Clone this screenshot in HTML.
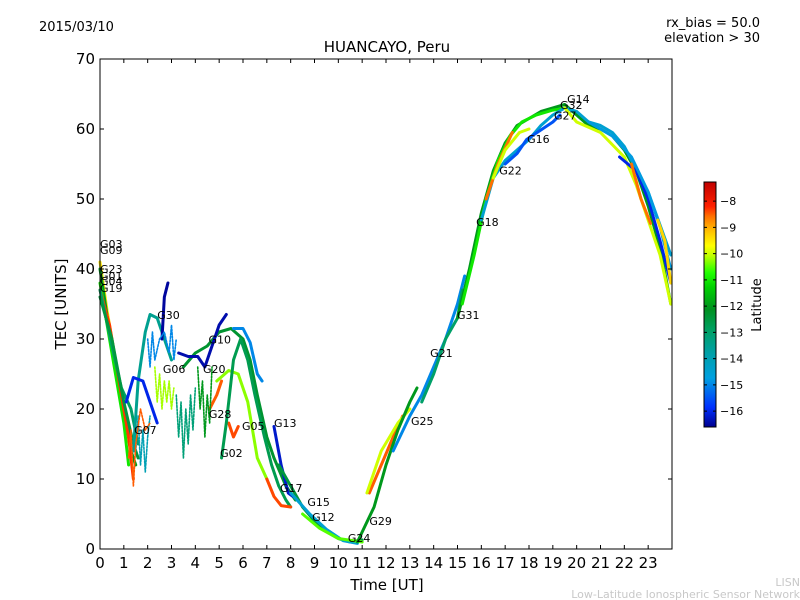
<!DOCTYPE html>
<html><head><meta charset="utf-8"><style>
body{margin:0;background:#fff;}
svg{display:block;font-family:"DejaVu Sans","Liberation Sans",sans-serif;}
</style></head><body>
<svg id="c" width="800" height="600" viewBox="0 0 800 600">
<defs><linearGradient id="cbg" x1="0" y1="1" x2="0" y2="0">
<stop offset="0" stop-color="#00008f"/><stop offset="0.08" stop-color="#0030ff"/><stop offset="0.2" stop-color="#00a0e0"/><stop offset="0.3" stop-color="#00a0a8"/><stop offset="0.4" stop-color="#00a060"/><stop offset="0.48" stop-color="#009020"/><stop offset="0.57" stop-color="#00d000"/><stop offset="0.63" stop-color="#20ff00"/><stop offset="0.7" stop-color="#c0ff00"/><stop offset="0.74" stop-color="#ffff00"/><stop offset="0.8" stop-color="#ffc000"/><stop offset="0.86" stop-color="#ff7000"/><stop offset="0.9" stop-color="#ff2000"/><stop offset="1" stop-color="#c00000"/>
</linearGradient></defs>
<text x="39" y="31" font-size="13">2015/03/10</text>
<text x="760" y="27" font-size="13" text-anchor="end">rx_bias = 50.0</text>
<text x="760" y="42" font-size="13" text-anchor="end">elevation &gt; 30</text>
<text x="387" y="52" font-size="15" text-anchor="middle">HUANCAYO, Peru</text>
<g id="tracks"></g>
<g id="labels"></g>
<rect x="100" y="59" width="572" height="490" fill="none" stroke="#000" stroke-width="1"/>
<g id="axes"></g>
<text x="387" y="590" font-size="15" text-anchor="middle">Time [UT]</text>
<text transform="translate(66,304) rotate(-90)" font-size="15" text-anchor="middle">TEC [UNITS]</text>
<rect x="704" y="182" width="12" height="245" fill="url(#cbg)" stroke="#000" stroke-width="1"/>
<g id="cbticks"></g>
<text transform="translate(761,305) rotate(-90)" font-size="13" text-anchor="middle">Latitude</text>
<text x="800" y="586" font-size="11" fill="#c8c8c8" text-anchor="end">LISN</text>
<text x="800" y="598" font-size="11" fill="#c8c8c8" text-anchor="end">Low-Latitude Ionospheric Sensor Network</text>
</svg>
<script>
const xTicks=[0,1,2,3,4,5,6,7,8,9,10,11,12,13,14,15,16,17,18,19,20,21,22,23];
const yTicks=[0,10,20,30,40,50,60,70];
const cbTicks=[-8,-9,-10,-11,-12,-13,-14,-15,-16];
const trackNames=["G03","G09","G23","G01","G04","G19","G30","G07","G30b","G10","G10b","G10c","G20","G28","G05","G02","G13","G17r","N1","N2","N3","R1","R2","R3","R4","R5","A1","A2","A3","A4","A5","A6","E1","E2","E3","E4","E5","S1","S2","S3","S4","S5","S6"];
const trackLats=[-9.5,-12,-11,-8.3,-13,-12.5,-13.5,-16,-16.5,-12.3,-16.4,-15,-10.3,-8.5,-8.4,-12.7,-16.2,-8.4,-12.5,-14.5,-10.5,-8.5,-10,-12,-15,-13,-12,-11,-14.5,-8.6,-15.5,-10,-10,-16,-14.8,-8.6,-9.3,-14,-13.2,-10.2,-15,-8.5,-12];
const trackPts=[
[[0,41],[0.3,34],[0.6,28],[0.9,22],[1.1,17],[1.3,14]],
[[0,40],[0.4,31],[0.8,24],[1.0,20],[1.3,14],[1.5,12]],
[[0,38],[0.5,28],[1.0,18],[1.2,12]],
[[0,37],[0.4,32],[0.8,24],[1.2,16],[1.4,10]],
[[0,37],[0.5,29],[0.9,23],[1.3,20],[1.6,15]],
[[0,36],[0.5,30],[1,21],[1.4,15],[1.6,13]],
[[1.4,14],[1.6,24],[1.9,31],[2.1,33.5],[2.4,33],[2.7,30],[3.0,27]],
[[1.1,21],[1.4,24.5],[1.8,24],[2.1,21],[2.4,18]],
[[2.6,30],[2.7,36],[2.85,38]],
[[3.5,26],[4,28],[4.5,29],[5,31],[5.5,31.5],[6,30],[6.3,27],[6.6,22],[7,16],[7.3,13],[7.8,9],[8.2,7]],
[[3.3,28],[3.7,27.5],[4.1,27.5],[4.4,26],[4.7,29],[5.0,32],[5.3,33.5]],
[[5.6,31.5],[6.0,31.5],[6.3,29.5],[6.6,25],[6.8,24]],
[[4.9,24],[5.4,25.5],[5.8,25],[6.2,21],[6.6,13],[7.0,10]],
[[4.6,20],[4.9,22],[5.1,24]],
[[5.4,18],[5.6,16],[5.8,17.5]],
[[5.1,13],[5.3,18],[5.6,27],[5.9,30],[6.2,27],[6.5,22],[6.9,16],[7.2,12],[7.5,9],[7.8,7],[8.0,6]],
[[7.3,17.5],[7.6,12],[7.9,8],[8.1,7.5]],
[[7,10],[7.3,7.5],[7.6,6.2],[8,6]],
[[7.5,12],[8,9],[8.5,6],[9,4],[9.5,2.5],[10,1.5],[10.5,1],[11,1.3]],
[[8,8],[8.8,5],[9.5,2.8],[10.2,1.2],[10.8,0.8]],
[[8.5,5],[9.2,3],[10,1.5],[11,1]],
[[11.3,8],[11.8,12],[12.3,16],[12.7,19]],
[[11.2,8],[11.8,14],[12.5,18],[13,20]],
[[10.8,1],[11.5,6],[12,12],[12.5,17],[13,21],[13.3,23]],
[[12.3,14],[13,19],[13.5,22],[14,26],[14.5,30],[15,35],[15.3,39]],
[[13.5,21],[14,25],[14.5,30],[15,33],[15.2,37]],
[[15,33],[15.5,40],[16,48],[16.5,54],[17,58],[17.5,60.5],[18,61.5],[18.5,62.5],[19,63],[19.5,63.5],[20,62],[20.5,60.5],[21,60],[21.5,59],[22,57],[22.5,54],[23,49],[23.5,43],[23.95,35]],
[[15.2,35],[15.7,42],[16.2,50],[16.7,55.5],[17.2,59],[17.7,61],[18.3,62],[19,62.7],[19.6,63]],
[[16,47],[16.5,53],[17,55.5],[17.5,57],[18,58.5],[18.5,60.5],[19,62],[19.5,63],[20,62.5],[20.5,61],[21,60.5],[21.5,59.5],[22,57.5],[23,51],[23.95,42]],
[[16.2,50],[16.7,55],[17.3,59.5]],
[[17,55],[17.5,56.5],[17.9,58.5],[19,61],[19.3,62]],
[[16.5,53],[17,57],[17.6,59.5],[18,60]],
[[19.5,63],[20,61],[21,59.5],[22,56],[22.5,52],[23,47],[23.5,42],[23.95,35]],
[[21.8,56],[22.5,54],[23,50],[23.5,44],[23.95,38]],
[[20.5,61],[21.5,59],[22.3,56],[23,51],[23.5,46],[23.95,40]],
[[22.3,55],[22.7,50],[23.1,46.5]],
[[23.4,47],[23.7,44],[23.95,38]],
[[1.5,14],[1.6,19],[1.7,12],[1.8,17],[1.9,11],[2.0,16],[2.1,19]],
[[3.2,22],[3.3,16],[3.4,21],[3.5,13],[3.6,20],[3.7,15],[3.8,22],[3.9,17],[4.0,23]],
[[2.3,26],[2.4,21],[2.5,25],[2.6,20],[2.7,24],[2.8,21],[2.9,24],[3.0,20],[3.1,23]],
[[2.0,30],[2.1,26],[2.2,31],[2.3,27],[2.5,30],[2.7,31],[2.9,28],[3.0,32],[3.1,27],[3.2,30]],
[[1.2,13],[1.3,17],[1.4,9],[1.5,15],[1.7,20],[1.9,17],[2.1,18]],
[[4.1,26],[4.2,20],[4.3,24],[4.4,16],[4.5,22],[4.6,18],[4.7,26]]
];
const labelNames=["G03","G09","G23","G01","G04","G19","G30","G10","G06","G20","G28","G07","G05","G02","G13","G17","G15","G12","G24","G29","G25","G21","G31","G18","G22","G16","G27","G32","G14"];
const labelT=[0,0,0,0,0,0,2.4,4.55,2.64,4.32,4.57,1.43,5.96,5.04,7.3,7.55,8.7,8.9,10.4,11.3,13.05,13.85,14.98,15.78,16.75,17.92,19.05,19.3,19.6];
const labelV=[43.6,42.7,40,39,38.3,37.3,33.4,29.9,25.7,25.7,19.3,17,17.6,13.7,18.0,8.7,6.7,4.6,1.6,4,18.3,28.0,33.4,46.7,54.1,58.6,61.9,63.4,64.3];

const NS="http://www.w3.org/2000/svg";
const X=t=>100+t*572/24, Y=v=>549-v*7;
const cbY=l=>182+(-7.27-l)*26.25;
const stops=[[-16.6,[0,0,143]],[-15.85,[0,48,255]],[-14.75,[0,160,224]],[-13.8,[0,160,168]],[-12.9,[0,160,96]],[-12.1,[0,144,32]],[-11.3,[0,208,0]],[-10.7,[32,255,0]],[-10.1,[192,255,0]],[-9.7,[255,255,0]],[-9.1,[255,192,0]],[-8.6,[255,112,0]],[-8.2,[255,32,0]],[-7.27,[192,0,0]]];
function color(l){for(let i=0;i<stops.length-1;i++){const a=stops[i],b=stops[i+1];if(l<=b[0]||i==stops.length-2){const f=Math.max(0,Math.min(1,(l-a[0])/(b[0]-a[0])));return "rgb("+a[1].map((c,k)=>Math.round(c+(b[1][k]-c)*f)).join(",")+")";}}}
function el(tag,attrs,parent){const e=document.createElementNS(NS,tag);for(const k in attrs)e.setAttribute(k,attrs[k]);parent.appendChild(e);return e;}
const tg=document.getElementById("tracks");
trackPts.forEach((pts,i)=>{
  const sc=i>=37;
  const p=el("polyline",{points:pts.map(p=>X(p[0])+","+Y(p[1])).join(" "),fill:"none",stroke:color(trackLats[i]),"stroke-width":sc?1.6:3,"stroke-linejoin":"round","stroke-linecap":"round","stroke-dasharray":sc?"2 1.5":"none"},tg);
  
  
});
const lg=document.getElementById("labels");
labelNames.forEach((n,i)=>{
  const t=el("text",{x:X(labelT[i]),y:Y(labelV[i])+4,"font-size":11},lg);t.textContent=n;
  
  
});
const ag=document.getElementById("axes");
xTicks.forEach(t=>{
  const l=el("path",{d:`M${X(t)},549v-4M${X(t)},59v4`,stroke:"#000"},ag);
  
  
  const tx=el("text",{x:X(t),y:568,"font-size":15,"text-anchor":"middle"},ag);tx.textContent=t;
  
  
});
yTicks.forEach(v=>{
  const l=el("path",{d:`M100,${Y(v)}h4M672,${Y(v)}h-4`,stroke:"#000"},ag);
  
  
  const tx=el("text",{x:95,y:Y(v)+5,"font-size":15,"text-anchor":"end"},ag);tx.textContent=v;
  
  
});
const cg=document.getElementById("cbticks");
cbTicks.forEach(v=>{
  const l=el("path",{d:`M716,${cbY(v)}h-3M704,${cbY(v)}h3`,stroke:"#000"},cg);
  
  
  const tx=el("text",{x:720,y:cbY(v)+4,"font-size":11},cg);tx.textContent="\u2212"+(-v);
  
  
});
</script>
</body></html>
